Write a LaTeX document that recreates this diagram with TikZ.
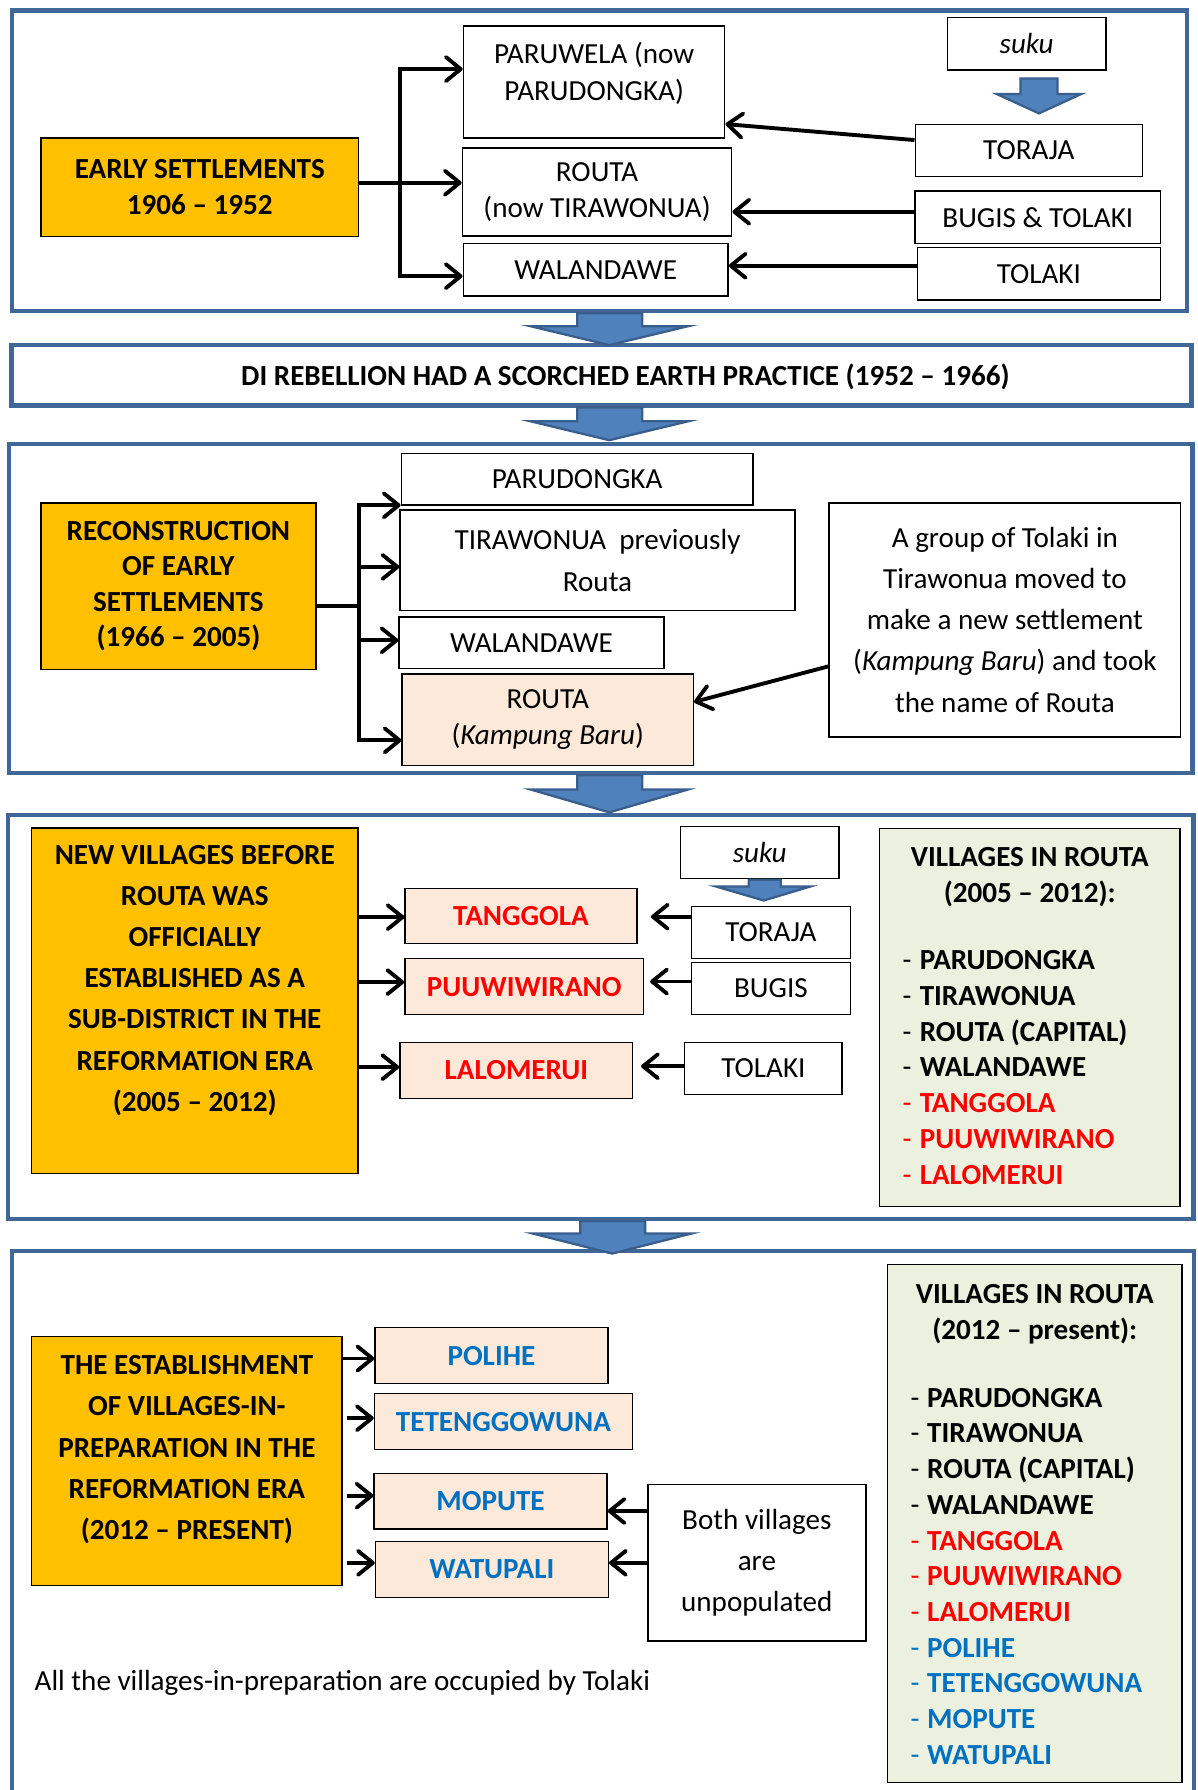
\documentclass[tikz,border=0pt]{standalone}
\usepackage{fontspec}
\setmainfont{Carlito}
\usetikzlibrary{arrows.meta}

\definecolor{panelblue}{HTML}{3F6797}
\definecolor{flowblue}{HTML}{4F81BD}
\definecolor{flowedge}{HTML}{3A5E8C}
\definecolor{erayellow}{HTML}{FFC000}
\definecolor{peach}{HTML}{FDE9D9}
\definecolor{sage}{HTML}{EBF1DE}
\definecolor{oldred}{HTML}{FF0000}
\definecolor{newblue}{HTML}{0070C0}

\tikzset{
  panel/.style={draw=panelblue, line width=4pt},
  box/.style={draw, line width=1.2pt, inner sep=0pt, align=center, font=\fontsize{25.5}{31}\selectfont},
  era/.style={box, fill=erayellow, font=\fontsize{25.5}{31}\selectfont\bfseries},
  village/.style={box, fill=peach, font=\fontsize{25.5}{31}\selectfont\bfseries},
  txt/.style={inner sep=0pt, align=center, font=\fontsize{25.5}{31}\selectfont},
  entry/.style={inner sep=0pt, anchor=base west, font=\fontsize{25.5}{31}\selectfont},
  wire/.style={line width=3.3pt, line cap=rect},
  link/.style={line width=3.4pt, -{Straight Barb[length=13pt,width=21pt,round]}},
  flow/.style={draw=flowedge, fill=flowblue, line width=2pt},
}

\begin{document}
\begin{tikzpicture}[x=1pt,y=-1pt]
  \useasboundingbox[fill=white] (0,0) rectangle (1049,1568);

  % early settlements
  \draw[panel] (10.4,9.1) rectangle (1039.8,272.3);
  \node[era, minimum width=278pt, minimum height=86pt] (early) at (175,164) {EARLY SETTLEMENTS\\1906 -- 1952};
  \node[box, minimum width=229pt, minimum height=98pt] (paruwela) at (520.4,71.9) {};
  \node[txt, font=\fontsize{25.5}{32}\selectfont] (paruwela-t) at ([yshift=7.6pt]paruwela.center) {PARUWELA (now\\PARUDONGKA)};
  \node[box, minimum width=236pt, minimum height=77pt, font=\fontsize{25.5}{32}\selectfont] (routa) at (523,168.1) {ROUTA\\(now TIRAWONUA)};
  \node[box, minimum width=232pt, minimum height=46pt] (walandawe) at (521.8,236.4) {WALANDAWE};
  \node[box, minimum width=139pt, minimum height=46pt] (suku) at (899.3,38.3) {\itshape suku};
  \node[box, minimum width=199pt, minimum height=46pt] (toraja) at (901.2,131.8) {TORAJA};
  \node[box, minimum width=215pt, minimum height=46pt] (bugistolaki) at (909.1,190.4) {BUGIS \& TOLAKI};
  \node[box, minimum width=213pt, minimum height=46pt] (tolaki) at (910,239.9) {TOLAKI};
  \draw[flow] (894,68.7) -- (894,82.4) -- (873.2,82.4) -- (910.1,99.3) -- (947,82.4) -- (926.4,82.4) -- (926.4,68.7) -- cycle;

  \coordinate (bus1top) at (350.5,60.5);
  \coordinate (bus1bot) at (350.5,241.9);
  \draw[wire] (bus1top) -- (bus1bot);
  \draw[link] (bus1top) -- (paruwela.west |- bus1top);
  \draw[link] (bus1bot) -- (walandawe.west |- bus1bot);
  \draw[link] (early.east |- 0,160.1) -- (routa.west |- 0,160.1);
  \draw[link] (toraja.west |- 0,122.7) -- (paruwela.east |- 0,108.7);
  \draw[link] (bugistolaki.west |- 0,185.5) -- (routa.east |- 0,185.5);
  \draw[link] (tolaki.west |- 0,232.8) -- (walandawe.east |- 0,232.8);

  % DI rebellion
  \node[panel, minimum width=1033.6pt, minimum height=52.7pt, inner sep=0pt] (rebellion) at (526.8,328.7) {};
  \node[txt, font=\fontsize{25.5}{31}\selectfont\bfseries] (rebellion-t) at (547.8,330) {DI REBELLION HAD A SCORCHED EARTH PRACTICE (1952 -- 1966)};

  % reconstruction
  \draw[panel] (8,389) rectangle (1044.7,677.1);
  \node[era, minimum width=241pt, minimum height=146pt] (rebuild) at (156.3,513.6) {RECONSTRUCTION\\OF EARLY\\SETTLEMENTS\\(1966 -- 2005)};
  \node[box, minimum width=308pt, minimum height=45pt] (parudongka) at (505.5,420) {PARUDONGKA};
  \node[box, minimum width=346pt, minimum height=88pt, font=\fontsize{25.5}{36.5}\selectfont] (tirawonua) at (523.4,490.8) {TIRAWONUA\ \ previously\\Routa};
  \node[box, minimum width=232pt, minimum height=45pt] (walandawe2) at (465.6,563.1) {WALANDAWE};
  \node[box, fill=peach, minimum width=255pt, minimum height=80pt, font=\fontsize{25.5}{32}\selectfont] (kampung) at (479.8,630.3) {ROUTA\\(\textit{Kampung Baru})};
  \node[box, minimum width=308pt, minimum height=205pt, font=\fontsize{25.5}{36}\selectfont] (tolakigroup) at (880.3,543) {A group of Tolaki in\\Tirawonua moved to\\make a new settlement\\(\textit{Kampung Baru}) and took\\the name of Routa};

  \coordinate (bus2top) at (314.3,442.6);
  \coordinate (bus2bot) at (314.3,648.5);
  \draw[wire] (bus2top) -- (bus2bot);
  \draw[wire] (rebuild.east |- 0,530.8) -- (bus2top |- 0,530.8);
  \draw[link] (bus2top) -- (parudongka.west |- bus2top);
  \draw[link] (bus2top |- 0,496.6) -- (tirawonua.west |- 0,496.6);
  \draw[link] (bus2top |- 0,560.9) -- (walandawe2.west |- 0,560.9);
  \draw[link] (bus2bot) -- (kampung.west |- bus2bot);
  \draw[link] (tolakigroup.west |- 0,583.7) -- (kampung.east |- 0,614.9);

  % new villages
  \draw[panel] (7,713.8) rectangle (1045.6,1067.7);
  \node[era, minimum width=286pt, minimum height=303pt] (newvillages) at (170.6,876.7) {};
  \node[txt, font=\fontsize{25.5}{36}\selectfont\bfseries] (newvillages-t) at ([yshift=17.8pt]newvillages.center) {NEW VILLAGES BEFORE\\ROUTA WAS\\OFFICIALLY\\ESTABLISHED AS A\\SUB-DISTRICT IN THE\\REFORMATION ERA\\(2005 -- 2012)};
  \node[village, text=oldred, minimum width=203pt, minimum height=48pt] (tanggola) at (456.4,802.2) {TANGGOLA};
  \node[village, text=oldred, minimum width=209pt, minimum height=49pt] (puuwiwirano) at (459.2,864.2) {PUUWIWIRANO};
  \node[village, text=oldred, minimum width=204pt, minimum height=49pt] (lalomerui) at (452.3,937.5) {LALOMERUI};
  \node[box, minimum width=139pt, minimum height=46pt] (suku2) at (665.5,746.8) {\itshape suku};
  \node[box, minimum width=139pt, minimum height=46pt] (toraja2) at (675.3,816.8) {TORAJA};
  \node[box, minimum width=139pt, minimum height=46pt] (bugis2) at (675.3,865.9) {BUGIS};
  \node[box, minimum width=138pt, minimum height=46pt] (tolaki2) at (668.7,936) {TOLAKI};
  \draw[flow] (656,770.6) -- (656,776.5) -- (627,776.5) -- (669,788.8) -- (710,776.5) -- (684,776.5) -- (684,770.6) -- cycle;

  \draw[link] (newvillages.east |- 0,803.4) -- (tanggola.west |- 0,803.4);
  \draw[link] (newvillages.east |- 0,860.3) -- (puuwiwirano.west |- 0,860.3);
  \draw[link] (newvillages.east |- 0,934.8) -- (lalomerui.west |- 0,934.8);
  \draw[link, shorten >=11.7pt] (toraja2.west |- 0,803) -- (tanggola.east |- 0,803);
  \draw[link, shorten >=5.2pt] (bugis2.west |- 0,859.8) -- (puuwiwirano.east |- 0,859.8);
  \draw[link, shorten >=6.7pt] (tolaki2.west |- 0,934) -- (lalomerui.east |- 0,934);

  \node[box, fill=sage, minimum width=263pt, minimum height=331pt] (villages1) at (902,891.4) {};
  \node[txt, font=\fontsize{25.5}{31.6}\selectfont\bfseries] (villages1-t) at (902,768) {VILLAGES IN ROUTA\\(2005 -- 2012):};
  \foreach \name/\col [count=\k from 0] in {PARUDONGKA/black, TIRAWONUA/black, ROUTA (CAPITAL)/black, WALANDAWE/black, TANGGOLA/oldred, PUUWIWIRANO/oldred, LALOMERUI/oldred}
    \node[entry, text=\col] (villages1-\k) at (790.5,{849.5+31.3*\k}) {\makebox[15pt][l]{-}\textbf{\name}};

  % villages-in-preparation
  \draw[panel] (10.5,1620) -- (10.5,1096) -- (1046,1096) -- (1046,1620);
  \node[era, minimum width=272pt, minimum height=218pt] (preparation) at (163.7,1280) {};
  \node[txt, font=\fontsize{25.5}{36.2}\selectfont\bfseries] (preparation-t) at ([yshift=10pt]preparation.center) {THE ESTABLISHMENT\\OF VILLAGES-IN-\\PREPARATION IN THE\\REFORMATION ERA\\(2012 -- PRESENT)};
  \node[village, text=newblue, minimum width=204pt, minimum height=49pt] (polihe) at (430.5,1187.5) {POLIHE};
  \node[village, text=newblue, minimum width=226pt, minimum height=49pt] (tetenggowuna) at (441,1245.3) {TETENGGOWUNA};
  \node[village, text=newblue, minimum width=204pt, minimum height=49pt] (mopute) at (429.7,1315) {MOPUTE};
  \node[village, text=newblue, minimum width=204pt, minimum height=49pt] (watupali) at (430.9,1374.8) {WATUPALI};
  \node[box, minimum width=191pt, minimum height=137pt, font=\fontsize{25.5}{36}\selectfont] (unpopulated) at (663,1369) {Both villages\\are\\unpopulated};
  \node[txt, anchor=west] (occupied) at (30.2,1474) {All the villages-in-preparation are occupied by Tolaki};

  \draw[link] (preparation.east |- 0,1190) -- (polihe.west |- 0,1190);
  \draw[link, shorten <=4pt] (preparation.east |- 0,1242.3) -- (tetenggowuna.west |- 0,1242.3);
  \draw[link, shorten <=4pt] (preparation.east |- 0,1310.2) -- (mopute.west |- 0,1310.2);
  \draw[link, shorten <=4pt] (preparation.east |- 0,1369) -- (watupali.west |- 0,1369);
  \draw[link] (unpopulated.west |- 0,1323.6) -- (mopute.east |- 0,1323.6);
  \draw[link] (unpopulated.west |- 0,1369) -- (watupali.east |- 0,1369);

  \node[box, fill=sage, minimum width=258pt, minimum height=454pt] (villages2) at (906.4,1334.6) {};
  \node[txt, font=\fontsize{25.5}{31.9}\selectfont\bfseries] (villages2-t) at (906.4,1151) {VILLAGES IN ROUTA\\(2012 -- present):};
  \foreach \name/\col [count=\k from 0] in {PARUDONGKA/black, TIRAWONUA/black, ROUTA (CAPITAL)/black, WALANDAWE/black, TANGGOLA/oldred, PUUWIWIRANO/oldred, LALOMERUI/oldred, POLIHE/newblue, TETENGGOWUNA/newblue, MOPUTE/newblue, WATUPALI/newblue}
    \node[entry, text=\col] (villages2-\k) at (797.5,{1232.6+31.3*\k}) {\makebox[14.5pt][l]{-}\textbf{\name}};

  % big arrows between stages
  \foreach \ya/\yb/\yc/\dx in {274.3/285.7/302.3/0, 357/369/385.6/0, 679.1/691.5/711.6/0, 1069.7/1080.6/1098.1/2.5}
    \draw[flow] ({505.7+\dx},\ya) -- ({505.7+\dx},\yb) -- ({464.5+\dx},\yb) -- ({533.7+\dx},\yc)
      -- ({603+\dx},\yb) -- ({562.6+\dx},\yb) -- ({562.6+\dx},\ya) -- cycle;
\end{tikzpicture}
\end{document}
